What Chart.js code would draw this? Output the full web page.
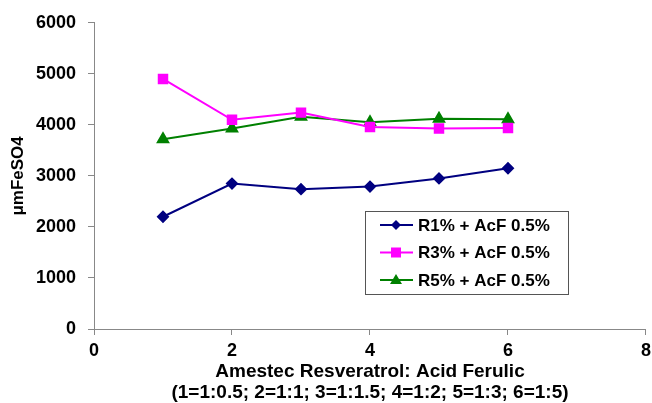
<!DOCTYPE html>
<html>
<head>
<meta charset="utf-8">
<script src="https://cdn.jsdelivr.net/npm/chart.js@4"></script>
<style>
  html, body { margin: 0; padding: 0; background: #fff; overflow: hidden; }
  #wrap { position: relative; width: 652px; height: 403px; overflow: hidden; }
</style>
</head>
<body>
<div id="wrap"><canvas id="c" width="656" height="403"></canvas></div>
<script>
const ratios = [1, 2, 3, 4, 5, 6];
const r1Values = [2200, 2850, 2740, 2790, 2950, 3150];
const r3Values = [4900, 4100, 4240, 3960, 3930, 3940];
const r5Values = [3720, 3930, 4160, 4050, 4120, 4110];
const seriesNames = ['R1% + AcF 0.5%', 'R3% + AcF 0.5%', 'R5% + AcF 0.5%'];
const xTicks = [0, 2, 4, 6, 8];
const yTicks = [0, 1000, 2000, 3000, 4000, 5000, 6000];

const toPoints = vals => ratios.map((x, i) => ({ x: x, y: vals[i] }));
const FAMILY = '"Liberation Sans", Arial, sans-serif';
const tickFont = { family: FAMILY, size: 18, weight: 'bold' };

// legend box drawn on the canvas
const boxLegend = {
    id: 'boxLegend',
    afterDraw(chart) {
        const ctx = chart.ctx;
        const x0 = 365, y0 = 211, w = 203, h = 83;
        ctx.save();
        ctx.fillStyle = '#fff';
        ctx.fillRect(x0, y0, w, h);
        ctx.strokeStyle = '#555';
        ctx.lineWidth = 1;
        ctx.strokeRect(x0 + 0.5, y0 + 0.5, w, h);
        chart.data.datasets.forEach((ds, i) => {
            const cy = y0 + 14 + i * 27.5;
            ctx.strokeStyle = ds.borderColor;
            ctx.lineWidth = 2;
            ctx.beginPath();
            ctx.moveTo(x0 + 15, cy);
            ctx.lineTo(x0 + 48, cy);
            ctx.stroke();
            ctx.fillStyle = ds.backgroundColor;
            ctx.beginPath();
            const mx = x0 + 31;
            if (ds.pointStyle === 'rectRot') {
                ctx.moveTo(mx, cy - 5); ctx.lineTo(mx + 5, cy); ctx.lineTo(mx, cy + 5); ctx.lineTo(mx - 5, cy);
            } else if (ds.pointStyle === 'rect') {
                ctx.rect(mx - 5, cy - 5, 10, 10);
            } else {
                ctx.moveTo(mx, cy - 6); ctx.lineTo(mx + 6, cy + 4); ctx.lineTo(mx - 6, cy + 4);
            }
            ctx.closePath();
            ctx.fill();
            ctx.fillStyle = '#000';
            ctx.font = 'bold 17px ' + FAMILY;
            ctx.textBaseline = 'middle';
            ctx.fillText(ds.label, x0 + 53, cy + 1);
        });
        ctx.restore();
    }
};

new Chart(document.getElementById('c'), {
    type: 'line',
    data: {
        datasets: [
            { label: seriesNames[0], data: toPoints(r1Values), borderColor: '#000080', backgroundColor: '#000080',
              pointStyle: 'rectRot', pointRadius: 5, borderWidth: 2 },
            { label: seriesNames[1], data: toPoints(r3Values), borderColor: '#FF00FF', backgroundColor: '#FF00FF',
              pointStyle: 'rect', pointRadius: 6, borderWidth: 2 },
            { label: seriesNames[2], data: toPoints(r5Values), borderColor: '#008000', backgroundColor: '#008000',
              pointStyle: 'triangle', pointRadius: 6, borderWidth: 2 }
        ]
    },
    options: {
        responsive: false,
        animation: false,
        layout: { padding: { top: 9, right: 0, left: 0, bottom: 0 } },
        plugins: { legend: { display: false }, tooltip: { enabled: false } },
        scales: {
            x: {
                type: 'linear', min: 0, max: 8,
                afterBuildTicks: s => { s.ticks = xTicks.map(v => ({ value: v })); },
                afterFit: s => { s.height = 74; },
                grid: { drawOnChartArea: false, tickLength: 6, color: '#888' },
                border: { color: '#888' },
                ticks: { color: '#000', font: tickFont, padding: 5, maxRotation: 0, callback: v => String(v) },
                title: { display: true, text: ['Amestec Resveratrol: Acid Ferulic', '(1=1:0.5; 2=1:1; 3=1:1.5; 4=1:2; 5=1:3; 6=1:5)'],
                         color: '#000', font: { family: FAMILY, size: 19, weight: 'bold', lineHeight: 1.1 }, padding: 0 }
            },
            y: {
                min: 0, max: 6000,
                afterBuildTicks: s => { s.ticks = yTicks.map(v => ({ value: v })); },
                afterFit: s => { s.width = 94; },
                grid: { drawOnChartArea: false, tickLength: 6, color: '#888' },
                border: { color: '#888' },
                ticks: { color: '#000', font: tickFont, padding: 12, callback: v => String(v) },
                title: { display: true, text: 'μmFeSO4', color: '#000',
                         font: { family: FAMILY, size: 17, weight: 'bold' }, padding: { top: 8, bottom: 0 } }
            }
        }
    },
    plugins: [boxLegend]
});
</script>
</body>
</html>
